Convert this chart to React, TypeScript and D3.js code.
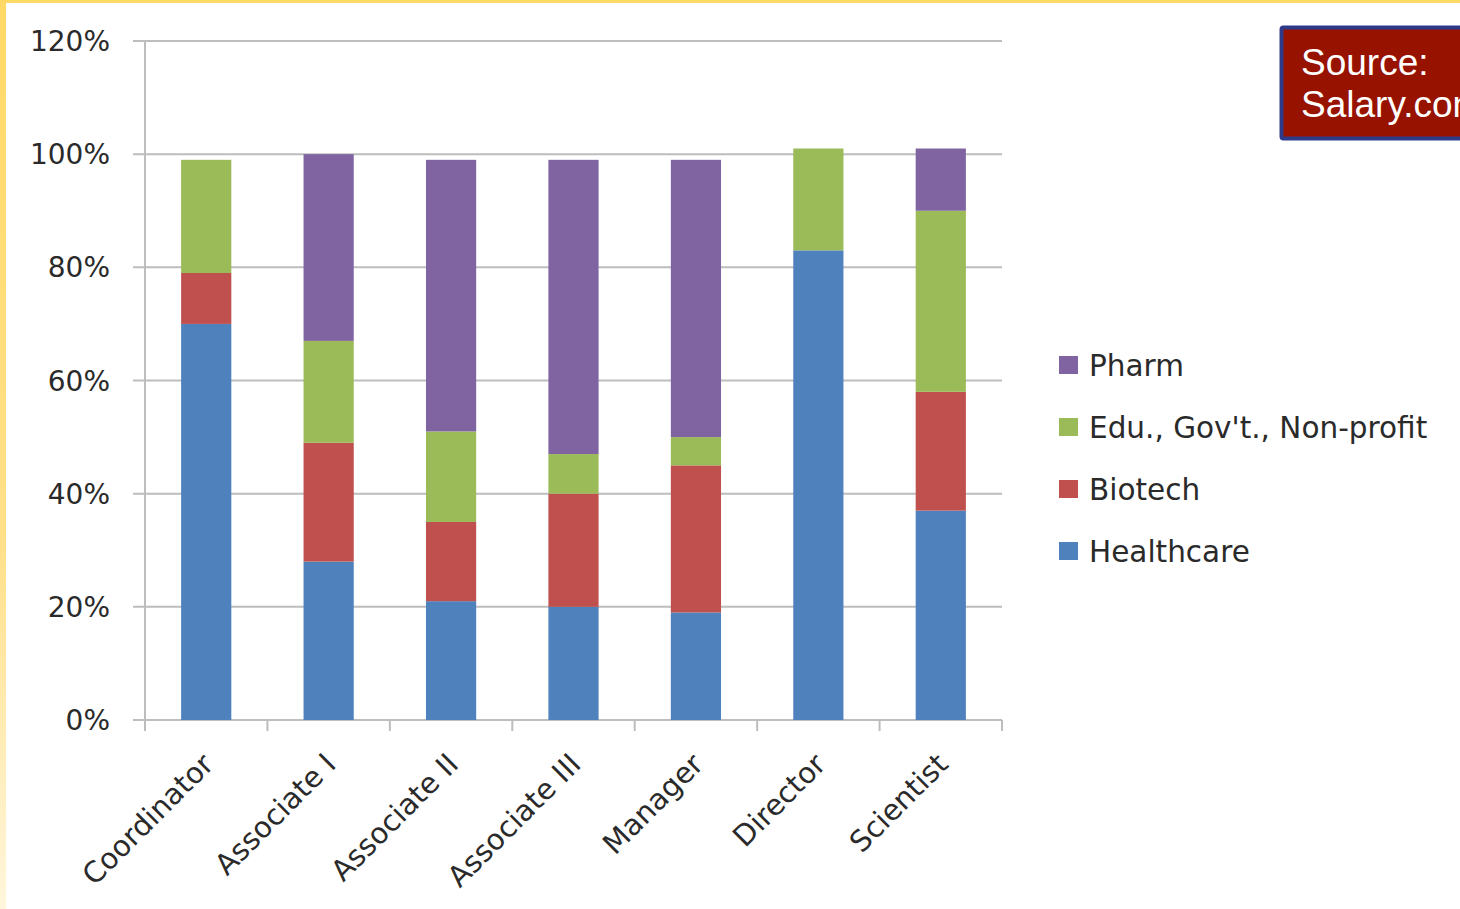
import React from "react";
import * as d3 from "d3";

// Share of positions by employer sector, per job title
const categories = ["Coordinator", "Associate I", "Associate II", "Associate III", "Manager", "Director", "Scientist"];
const healthcare = [70, 28, 21, 20, 19, 83, 37];
const biotech = [9, 21, 14, 20, 26, 0, 21];
const eduGovNonprofit = [20, 18, 16, 7, 5, 18, 32];
const pharm = [0, 33, 48, 52, 49, 0, 11];
const seriesNames = ["Healthcare", "Biotech", "Edu., Gov't., Non-profit", "Pharm"];
const seriesColors = ["#4F81BD", "#C0504D", "#9BBB59", "#8064A2"];
const yTicks = [0, 20, 40, 60, 80, 100, 120];

const W = 1460;
const H = 909;
const FONT = "'DejaVu Sans', 'Open Sans', sans-serif";
const INK = "#2a2a2a";

export default function App() {
  const x = d3.scaleBand<string>().domain(categories).range([145, 1002]).paddingInner(0.59).paddingOuter(0.295);
  const xb = d3.scaleBand<string>().domain(categories).range([145, 1002]);
  const y = d3.scaleLinear().domain([0, 120]).range([720, 41]);

  const rows = categories.map((c, i) => ({
    cat: c,
    Healthcare: healthcare[i],
    Biotech: biotech[i],
    "Edu., Gov't., Non-profit": eduGovNonprofit[i],
    Pharm: pharm[i],
  }));
  const stacked = d3.stack<any>().keys(seriesNames)(rows);

  const legendOrder = [3, 2, 1, 0];

  return (
    <svg width={W} height={H} style={{ position: "absolute", left: 0, top: 0 }}>
      <defs>
        <linearGradient id="edge" x1="0" y1="0" x2="0" y2="1">
          <stop offset="0%" stopColor="#FFD966" />
          <stop offset="60%" stopColor="#FFE08A" />
          <stop offset="100%" stopColor="#FFF6DC" />
        </linearGradient>
      </defs>
      <rect x={0} y={0} width={W} height={H} fill="#fff" />
      <rect x={0} y={0} width={6} height={H} fill="url(#edge)" />
      <rect x={0} y={0} width={W} height={3} fill="#FFD966" />

      {/* gridlines and y ticks */}
      {yTicks.map((t) => (
        <g key={t}>
          <line x1={133} x2={1002} y1={y(t)} y2={y(t)} stroke="#BDBDBD" strokeWidth={2} />
          <text x={110} y={y(t)} dy="0.36em" textAnchor="end" fontFamily={FONT} fontSize={28} fill={INK}>
            {t}%
          </text>
        </g>
      ))}
      <line x1={145} x2={145} y1={y(120)} y2={731} stroke="#BDBDBD" strokeWidth={2} />
      {categories.map((c) => (
        <line key={c} x1={(xb(c) as number) + xb.bandwidth()} x2={(xb(c) as number) + xb.bandwidth()} y1={720} y2={731} stroke="#BDBDBD" strokeWidth={2} />
      ))}

      {/* stacked bars */}
      {stacked.map((s, si) => (
        <g key={s.key} fill={seriesColors[si]}>
          {s.map((d, i) =>
            d[1] - d[0] > 0 ? (
              <rect key={i} x={x(categories[i])} width={x.bandwidth()} y={y(d[1])} height={y(d[0]) - y(d[1])} />
            ) : null
          )}
        </g>
      ))}

      {/* category labels */}
      {categories.map((c) => {
        const cx = (xb(c) as number) + xb.bandwidth() / 2 + 9;
        return (
          <text key={c} transform={`translate(${cx},${766}) rotate(-45)`} textAnchor="end" fontFamily={FONT} fontSize={29} fill={INK}>
            {c}
          </text>
        );
      })}

      {/* legend */}
      {legendOrder.map((si, k) => (
        <g key={si} transform={`translate(1059,${365 + k * 62})`}>
          <rect x={0} y={-9} width={19} height={18} fill={seriesColors[si]} />
          <text x={30} y={0} dy="0.36em" fontFamily={FONT} fontSize={29.5} fill={INK}>
            {seriesNames[si]}
          </text>
        </g>
      ))}

      {/* source note */}
      <rect x={1281.5} y={27.5} width={200} height={111} fill="#981200" stroke="#2E3A87" strokeWidth={4} rx={2} />
      <text x={1301} y={75} fontFamily="'Liberation Sans', Arial, sans-serif" fontSize={37} fill="#fff">
        Source:
      </text>
      <text x={1301} y={117} fontFamily="'Liberation Sans', Arial, sans-serif" fontSize={37} fill="#fff">
        Salary.com
      </text>
    </svg>
  );
}
